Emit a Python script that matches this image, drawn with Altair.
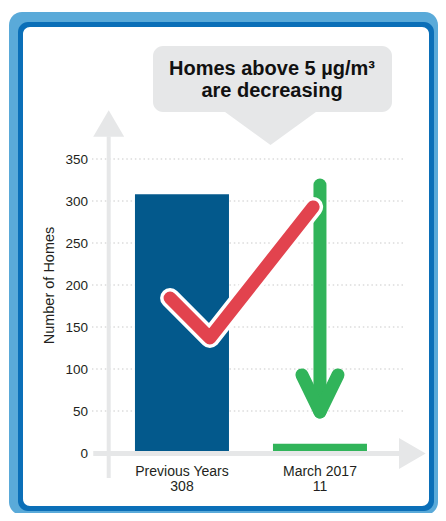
import altair as alt
import pandas as pd

FONT = "Liberation Sans"

# ---- data ----
categories = ["Previous Years", "March 2017"]
homes = [308, 11]
bar_colors = ["#03598C", "#31B45A"]
y_ticks = [0, 50, 100, 150, 200, 250, 300, 350]
callout_lines = ["Homes above 5 \u00b5g/m\u00b3", "are decreasing"]

# decorative check mark (x: fraction of plot width, y: homes)
check_x = [0.251, 0.379, 0.711]
check_y = [184.5, 136.9, 292.9]

# decorative green down arrow
arrow_part = ["shaft", "shaft", "head", "head", "head"]
arrow_x = [0.733, 0.733, 0.675, 0.733, 0.791]
arrow_y = [319.0, 48.8, 92.9, 48.8, 92.9]

# grey axis arrows
vaxis_x = [0.0537, 0.0537]
vaxis_y = [-29.8, 377.0]
vhead_x = [0.0537]
vhead_y = [392.3]
haxis_x = [0.004, 0.99]
haxis_y = [-0.5, -0.5]
hhead_x = [1.03]
hhead_y = [-0.5]

W, H = 311, 294
yscale = alt.Scale(domain=[0, 350], nice=False, zero=False)
xq = alt.Scale(domain=[0, 1], nice=False, zero=False)
one = pd.DataFrame({"k": [0]})

YAXIS = alt.Axis(values=y_ticks, title="Number of Homes", grid=False,
                 ticks=False, domain=False, labelPadding=4.5,
                 labelFontSize=13.5, labelColor="#231F20", labelFont=FONT,
                 titleFont=FONT, titleFontSize=14.5, titleFontWeight="normal",
                 titleColor="#231F20", titleAngle=-90, titleX=-43, titleY=126,
                 titleAlign="center", titleBaseline="middle", zindex=1)


def box(x, x2, y, y2, color, r):
    return alt.Chart(one).mark_rect(color=color, cornerRadius=r).encode(
        x=alt.value(x), x2=alt.value(x2), y=alt.value(y), y2=alt.value(y2))


frame_light = box(-83, 346, -147, 356, "#5AAAD9", 13)
frame_dark = box(-74, 342, -137, 352, "#0B6FB8", 10)
frame_white = box(-69, 337, -132, 347, "#FFFFFF", 7)

callout_box = box(61, 300, -113, -47, "#E6E7E8", 10)
callout_tri = alt.Chart(one).mark_point(
    shape="M-1,-0.38L1,-0.38L0,0.347Z", size=9025, filled=True,
    color="#E6E7E8", opacity=1, strokeWidth=0).encode(
    x=alt.value(178.5), y=alt.value(-30.5))
callout_t1 = alt.Chart(one).mark_text(
    text=callout_lines[0], font=FONT, fontSize=20, fontWeight="bold",
    color="#111111", align="center", baseline="alphabetic").encode(
    x=alt.value(180), y=alt.value(-84.3))
callout_t2 = alt.Chart(one).mark_text(
    text=callout_lines[1], font=FONT, fontSize=20, fontWeight="bold",
    color="#111111", align="center", baseline="alphabetic").encode(
    x=alt.value(180), y=alt.value(-61.7))

grid = alt.Chart(pd.DataFrame({"v": y_ticks[1:]})).mark_rule(
    color="#C9C9C9", strokeDash=[1.5, 2.8], strokeWidth=1).encode(
    y=alt.Y("v:Q", scale=yscale, axis=YAXIS))


def qline(xs, ys, color, width, parts=None, cap="butt"):
    df = pd.DataFrame({"x": xs, "y": ys, "i": list(range(len(xs))),
                       "part": parts if parts else ["a"] * len(xs)})
    return alt.Chart(df).mark_line(
        color=color, strokeWidth=width, strokeCap=cap, strokeJoin="round").encode(
        x=alt.X("x:Q", scale=xq, axis=None),
        y=alt.Y("y:Q", scale=yscale, axis=YAXIS),
        order="i:Q", detail="part:N")


def qhead(xs, ys, shape, size, color):
    df = pd.DataFrame({"x": xs, "y": ys})
    return alt.Chart(df).mark_point(
        shape=shape, size=size, filled=True, color=color, opacity=1,
        strokeWidth=0).encode(
        x=alt.X("x:Q", scale=xq, axis=None),
        y=alt.Y("y:Q", scale=yscale, axis=YAXIS))


GREY = "#E6E7E8"
vaxis = qline(vaxis_x, vaxis_y, GREY, 4)
vhead = qhead(vhead_x, vhead_y, "M0,-0.86L1,0.86L-1,0.86Z", 961, GREY)
haxis = qline(haxis_x, haxis_y, GREY, 5)
hhead = qhead(hhead_x, hhead_y, "M0.86,0L-0.86,1L-0.86,-1Z", 961, GREY)

bars_df = pd.DataFrame({"category": categories, "homes": homes, "color": bar_colors})
bars_df["label"] = [f"{c}\n{h}" for c, h in zip(categories, homes)]

bars = alt.Chart(bars_df).mark_bar().encode(
    x=alt.X("label:N", sort=None,
            scale=alt.Scale(paddingInner=0.3188, paddingOuter=0.2862, align=0.544),
            axis=alt.Axis(title=None, labelAngle=0,
                          labelExpr="split(datum.label, '\\n')",
                          ticks=False, domain=False, grid=False,
                          labelPadding=11, labelBaseline="top",
                          labelFontSize=14, labelLineHeight=15,
                          labelColor="#231F20", labelFont=FONT, zindex=1)),
    y=alt.Y("homes:Q", scale=yscale, axis=YAXIS),
    color=alt.Color("color:N", scale=None),
)

green_arrow = qline(arrow_x, arrow_y, "#31B45A", 13, parts=arrow_part, cap="round")
check_white = qline(check_x, check_y, "#FFFFFF", 20, cap="round")
check_red = qline(check_x, check_y, "#E2434E", 13, cap="round")

chart = alt.layer(
    frame_light, frame_dark, frame_white,
    callout_box, callout_tri, callout_t1, callout_t2,
    grid, vaxis, vhead, bars, haxis, hhead,
    green_arrow, check_white, check_red,
).resolve_scale(x="independent").properties(
    width=W, height=H,
    autosize=alt.AutoSizeParams(type="none"),
    padding={"left": 84, "top": 151, "right": 35, "bottom": 60},
    background="#FFFFFF",
).configure_view(stroke=None)

chart.save("out.html", embed_options={"renderer": "svg", "actions": False})
